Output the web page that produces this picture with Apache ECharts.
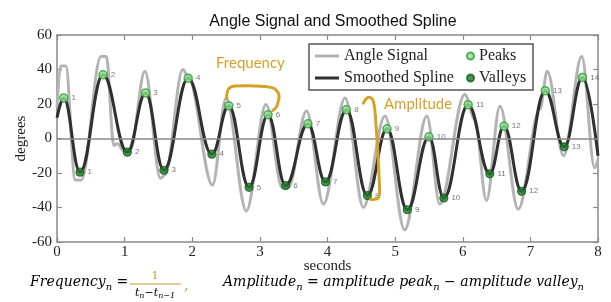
<!DOCTYPE html>
<html>
<head>
<meta charset="utf-8">
<script src="https://cdn.jsdelivr.net/npm/echarts@6/dist/echarts.min.js"></script>
<style>
  html, body { margin: 0; padding: 0; background: #fff; }
  #chart { width: 611px; height: 302px; }
</style>
</head>
<body>
<div id="chart"></div>
<script>
// values
const peakT = [0.10, 0.68, 1.31, 1.94, 2.54, 3.12, 3.71, 4.28, 4.88, 5.50, 6.08, 6.61, 7.22, 7.77];
const peakY = [23.5, 36.9, 26.4, 35.0, 19.0, 13.8, 8.5, 16.7, 5.6, 1.0, 19.6, 7.1, 27.7, 35.4];
const valleyT = [0.34, 1.04, 1.58, 2.29, 2.84, 3.38, 3.97, 4.59, 5.18, 5.72, 6.40, 6.87, 7.50];
const valleyY = [-19.5, -7.9, -18.4, -9.1, -28.3, -27.3, -25.2, -33.1, -41.3, -34.5, -20.5, -30.6, -4.8];
const splineStart = [0, 12];
const splineEnd = [8, -10];

const signalT = [0.00, 0.05, 0.13, 0.27, 0.36, 0.65, 0.73, 0.84, 0.90, 0.98, 1.08, 1.30, 1.53, 1.60,
  1.86, 1.94, 2.30, 2.50, 2.80, 3.09, 3.33, 3.42, 3.69, 3.94, 4.26, 4.53, 4.85, 5.14, 5.47, 5.66,
  6.03, 6.18, 6.35, 6.55, 6.82, 7.14, 7.25, 7.49, 7.76, 7.95, 8.00];
const signalY = [18, 42, 42, -24, -24, 47.5, 47.5, -4, -3, -7, -7, 39, -23, -21,
  40, 36, -27, 23.5, -42, 19.7, -28.5, -28.5, 16, -38, 23.5, -40, 13, -53, 13, -38,
  25.5, 11, -36, 18.7, -41, 17, 39, -10, 47.5, -17, -12];

const xTicks = [0, 1, 2, 3, 4, 5, 6, 7, 8];
const yTicks = [-60, -40, -20, 0, 20, 40, 60];

const gold = '#d4a227';
const formulaGold = '#c69a30';
const serif = 'Liberation Serif';

const peaks = peakT.map((t, i) => [t, peakY[i]]);
const valleys = valleyT.map((t, i) => [t, valleyY[i]]);
const spline = [splineStart];
peaks.forEach((p, i) => {
  spline.push(p);
  if (valleys[i]) spline.push(valleys[i]);
});
spline.push(splineEnd);
const signal = signalT.map((t, i) => [t, signalY[i]]);

const chart = echarts.init(document.getElementById('chart'));

const axisCommon = {
  type: 'value',
  axisLine: { show: true, onZero: false, lineStyle: { color: '#8a8a8a', width: 1.5 } },
  axisTick: { show: true, inside: true, length: 5, lineStyle: { color: '#8a8a8a', width: 1.2 } },
  splitLine: { show: false }
};
const legendText = { fontFamily: serif, fontSize: 16, lineHeight: 16, color: '#222' };

const option = {
  animation: false,
  backgroundColor: '#fff',
  title: {
    text: 'Angle Signal and Smoothed Spline',
    left: 328,
    textAlign: 'center',
    top: 9,
    textStyle: { fontFamily: 'Liberation Sans', fontSize: 16, fontWeight: 'normal', color: '#111' }
  },
  grid: { left: 57, right: 13, top: 35, bottom: 60 },
  legend: [
    {
      data: [
        { name: 'Angle Signal', icon: 'rect' },
        { name: 'Smoothed Spline', icon: 'rect' }
      ],
      orient: 'vertical',
      left: 315,
      top: 48,
      padding: 0,
      itemWidth: 24,
      itemHeight: 3,
      itemGap: 6,
      textStyle: legendText
    },
    {
      data: [
        { name: 'Peaks', icon: 'circle' },
        { name: 'Valleys', icon: 'circle' }
      ],
      orient: 'vertical',
      left: 466,
      top: 48,
      padding: 0,
      itemWidth: 7,
      itemHeight: 7,
      itemGap: 6,
      textStyle: legendText
    }
  ],
  xAxis: [
    Object.assign({}, axisCommon, {
      min: xTicks[0], max: xTicks[xTicks.length - 1], interval: 1,
      position: 'bottom',
      name: 'seconds', nameLocation: 'middle', nameGap: 17, nameMoveOverlap: false,
      nameTextStyle: { fontFamily: serif, fontSize: 15, color: '#222', verticalAlign: 'top' },
      axisLabel: { fontFamily: serif, fontSize: 15, color: '#222', margin: 3 }
    }),
    Object.assign({}, axisCommon, {
      min: xTicks[0], max: xTicks[xTicks.length - 1], interval: 1,
      position: 'top',
      axisLabel: { show: false }
    })
  ],
  yAxis: [
    Object.assign({}, axisCommon, {
      min: yTicks[0], max: yTicks[yTicks.length - 1], interval: 20,
      position: 'left',
      name: 'degrees', nameLocation: 'middle', nameGap: 28, nameMoveOverlap: false,
      nameTextStyle: { fontFamily: serif, fontSize: 15, color: '#222' },
      axisLabel: { fontFamily: serif, fontSize: 15, color: '#222', margin: 5 }
    }),
    Object.assign({}, axisCommon, {
      min: yTicks[0], max: yTicks[yTicks.length - 1], interval: 20,
      position: 'right',
      axisLabel: { show: false }
    })
  ],
  series: [
    {
      name: 'Angle Signal',
      type: 'line',
      data: signal,
      symbol: 'none',
      smooth: 0.35,
      smoothMonotone: 'x',
      lineStyle: { color: '#b3b3b3', width: 3 },
      itemStyle: { color: '#b3b3b3' },
      z: 1,
      markLine: {
        silent: true,
        symbol: 'none',
        label: { show: false },
        lineStyle: { color: '#8a8a8a', width: 1.5, type: 'solid' },
        data: [{ yAxis: 0 }]
      }
    },
    {
      name: 'Smoothed Spline',
      type: 'line',
      data: spline,
      symbol: 'none',
      smooth: 0.42,
      smoothMonotone: 'x',
      lineStyle: { color: '#303030', width: 3 },
      itemStyle: { color: '#303030' },
      z: 2
    },
    {
      name: 'Peaks',
      type: 'scatter',
      data: peaks,
      symbolSize: 8,
      itemStyle: { color: '#8fe28f', borderColor: '#2f9a3a', borderWidth: 1.5 },
      label: {
        show: true, position: 'right', distance: 3,
        formatter: p => String(p.dataIndex + 1),
        fontFamily: 'Liberation Sans', fontSize: 8, color: '#555'
      },
      z: 3
    },
    {
      name: 'Valleys',
      type: 'scatter',
      data: valleys,
      symbolSize: 8,
      itemStyle: { color: '#1f7a2a', borderColor: '#125c1c', borderWidth: 1.2 },
      label: {
        show: true, position: 'right', distance: 3,
        formatter: p => String(p.dataIndex + 1),
        fontFamily: 'Liberation Sans', fontSize: 8, color: '#555'
      },
      z: 3
    }
  ]
};

chart.setOption(option);

// annotation brackets, given in data units and converted to pixels
const toPx = pts => pts.map(p => chart.convertToPixel({ gridIndex: 0 }, p));
const freqBracket = toPx([[2.51, 23], [2.53, 28.3], [2.63, 30.4], [3.18, 29.5], [3.28, 25.4], [3.25, 18.7], [3.19, 16.2]]);
const ampBracket = toPx([[4.53, 20.5], [4.60, 23.8], [4.67, 22.5], [4.71, 12], [4.77, -29], [4.75, -34.5], [4.64, -35.3]]);

const formulaFont = 'DejaVu Serif';
const sub = { fontFamily: formulaFont, fontStyle: 'italic', fontSize: 10, color: formulaGold, lineHeight: 10, verticalAlign: 'bottom' };
const main = { fontFamily: formulaFont, fontStyle: 'italic', fontSize: 14, color: formulaGold, lineHeight: 20, verticalAlign: 'middle' };

chart.setOption({
  graphic: [
    {
      type: 'polyline', z: 10,
      shape: { points: freqBracket, smooth: 0.35 },
      style: { stroke: gold, lineWidth: 3, fill: null, lineCap: 'round' }
    },
    {
      type: 'polyline', z: 10,
      shape: { points: ampBracket, smooth: 0.35 },
      style: { stroke: gold, lineWidth: 3, fill: null, lineCap: 'round' }
    },
    {
      type: 'text', z: 10, left: 216, top: 56,
      style: { text: 'Frequency', fontFamily: 'Lato', fontSize: 15, fill: gold }
    },
    {
      type: 'text', z: 10, left: 384, top: 97,
      style: { text: 'Amplitude', fontFamily: 'Lato', fontSize: 15, fill: gold }
    },
    {
      type: 'rect', z: 9,
      shape: { x: 309, y: 44, width: 224, height: 46 },
      style: { fill: null, stroke: '#555', lineWidth: 1.5 }
    },
    {
      type: 'text', z: 10, left: 30, top: 275,
      style: { text: '{m|Frequency}{s|n}{m| =}', rich: { m: main, s: sub } }
    },
    {
      type: 'text', z: 10, x: 155, y: 276,
      style: { text: '1', fontFamily: formulaFont, fontSize: 11, fill: formulaGold, align: 'center', verticalAlign: 'middle' }
    },
    {
      type: 'line', z: 10,
      shape: { x1: 130, y1: 284, x2: 181, y2: 284 },
      style: { stroke: formulaGold, lineWidth: 1 }
    },
    {
      type: 'text', z: 10, x: 155, y: 293,
      style: { text: '{m|t}{s|n}{m|−t}{s|n−1}', align: 'center', verticalAlign: 'middle', rich: {
        m: Object.assign({}, main, { fontSize: 11, lineHeight: 13 }),
        s: Object.assign({}, sub, { fontSize: 8, lineHeight: 8 })
      } }
    },
    {
      type: 'text', z: 10, left: 184, top: 279,
      style: { text: ',', fontFamily: formulaFont, fontStyle: 'italic', fontSize: 14, fill: formulaGold }
    },
    {
      type: 'text', z: 10, left: 223, top: 275,
      style: { text: '{m|Amplitude}{s|n}{m| = amplitude peak}{s|n}{m| − amplitude valley}{s|n}', rich: { m: main, s: sub } }
    }
  ]
});
</script>
</body>
</html>
